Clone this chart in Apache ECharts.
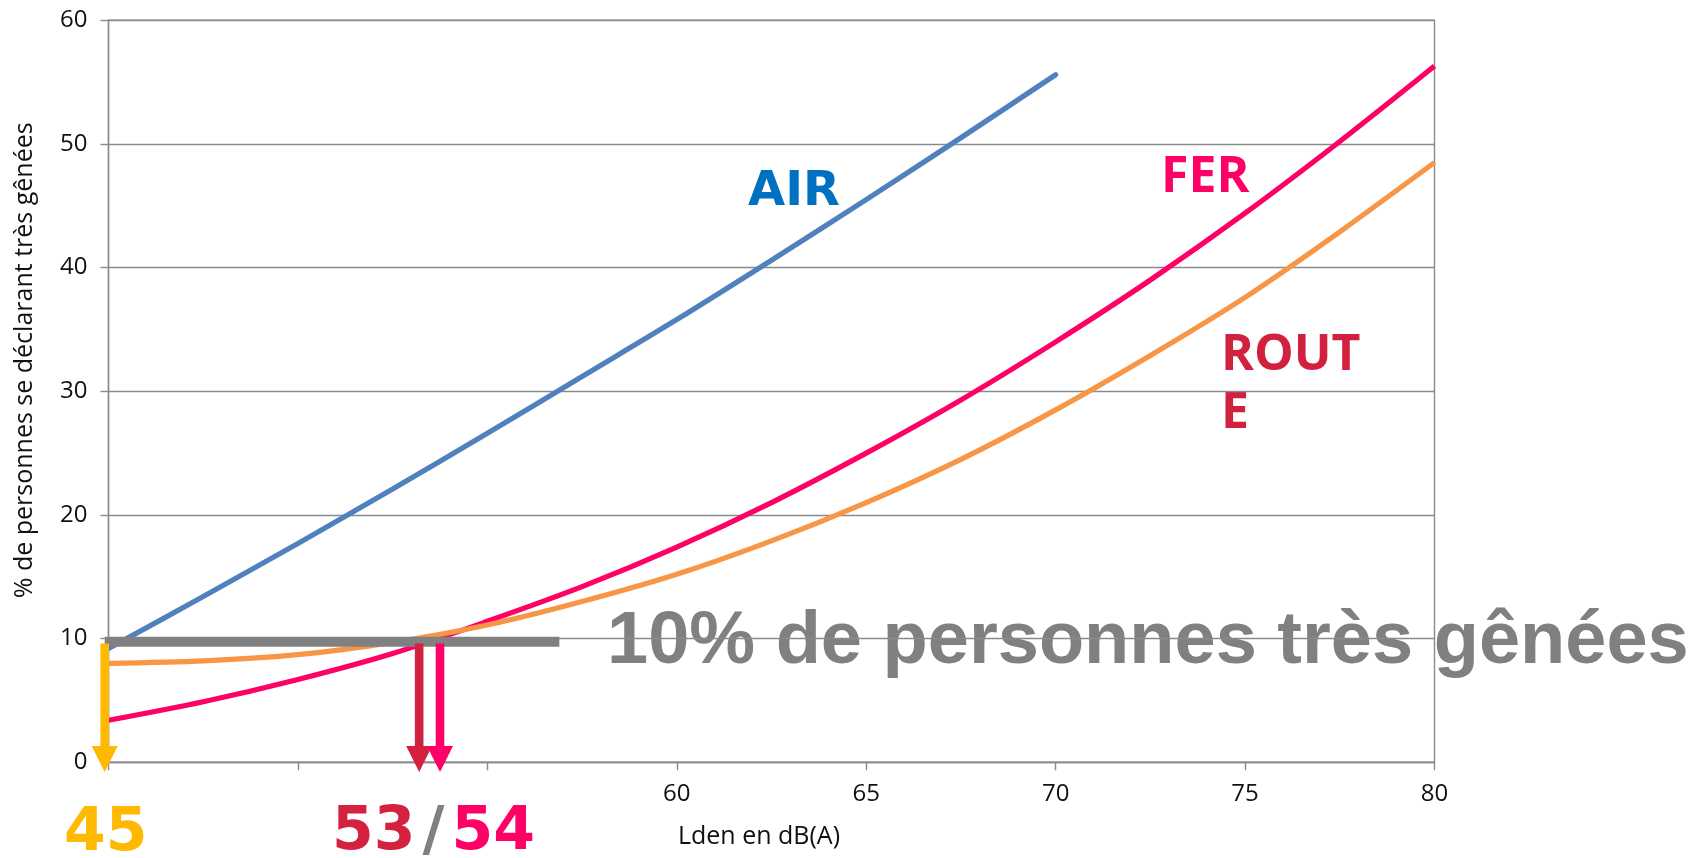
<!DOCTYPE html>
<html>
<head>
<meta charset="utf-8">
<title>Gêne due au bruit des transports</title>
<script src="https://cdn.jsdelivr.net/npm/echarts@6/dist/echarts.min.js"></script>
<style>
  html, body { margin: 0; padding: 0; background: #fff; }
  #chart { width: 1701px; height: 858px; }
</style>
</head>
<body>
<div id="chart"></div>
<script>
// Lden (dB(A)) where the curves are read
const lden = [45, 47.5, 50, 52.5, 55, 57.5, 60, 62.5, 65, 67.5, 70, 72.5, 75, 77.5, 80];
// % de personnes très gênées
const airValues = [9.2, 13.4, 17.7, 22.1, 26.6, 31.2, 35.8, 40.6, 45.5, 50.5, 55.6];
const ferValues = [3.4, 4.9, 6.7, 8.8, 11.4, 14.2, 17.4, 21.0, 25.0, 29.3, 34.0, 39.0, 44.4, 50.2, 56.3];
const routeValues = [8.0, 8.2, 8.7, 9.7, 11.1, 13.0, 15.2, 17.9, 21.0, 24.5, 28.5, 32.9, 37.6, 42.9, 48.5];

// seuil de 10 % (barre grise) et flèches vers l'axe des x
const seuilX = [44.9, 56.9];
const seuilY = 9.75;
const arrowX = [44.9, 53.2, 53.75];
const arrowTop = 9.6;
const arrowTip = -0.78;
const arrowColors = ['#FFB900', '#D42140', '#FF0066'];

const xTickLabels = [60, 65, 70, 75, 80];

const font = "'Open Sans', sans-serif";
const gridColor = '#8A8A8A';

const chart = echarts.init(document.getElementById('chart'));

const option = {
  animation: false,
  backgroundColor: '#fff',
  grid: {
    left: 108.5,
    right: 266.5,
    top: 20.3,
    bottom: 95.7,
    show: true,
    borderColor: gridColor,
    borderWidth: 1.4
  },
  xAxis: {
    type: 'value',
    min: 45,
    max: 80,
    interval: 5,
    name: 'Lden en dB(A)',
    nameLocation: 'middle',
    nameGap: 62,
    nameTextStyle: { fontFamily: font, fontSize: 25, color: '#111', padding: [0, 25, 0, 0], lineHeight: 25 },
    axisLine: { show: true, lineStyle: { color: gridColor, width: 1.4 } },
    axisTick: { show: true, length: 8, lineStyle: { color: gridColor, width: 1.4 } },
    splitLine: { show: false },
    axisLabel: {
      margin: 20,
      fontFamily: font,
      fontSize: 24,
      color: '#111',
      formatter: v => (xTickLabels.includes(v) ? String(v) : '')
    }
  },
  yAxis: {
    type: 'value',
    min: 0,
    max: 60,
    interval: 10,
    name: '% de personnes se déclarant très gênées',
    nameLocation: 'middle',
    nameGap: 71,
    nameTextStyle: { fontFamily: font, fontSize: 25, color: '#111', padding: [0, 0, 0, 62], lineHeight: 25 },
    axisLine: { show: true, lineStyle: { color: gridColor, width: 1.4 } },
    axisTick: { show: true, length: 8, lineStyle: { color: gridColor, width: 1.4 } },
    splitLine: { show: true, lineStyle: { color: gridColor, width: 1.4 } },
    axisLabel: { margin: 21, fontFamily: font, fontSize: 24, color: '#111' }
  },
  graphic: [
    {
      type: 'text', z: -1, x: 607, y: 643,
      style: {
        text: '10% de personnes très gênées',
        font: "bold 74px 'Liberation Sans', Arial, sans-serif",
        fill: '#808080', verticalAlign: 'middle', textVerticalAlign: 'middle'
      }
    },
    {
      type: 'text', x: 748, y: 193,
      style: { text: 'AIR', font: "bold 48px 'DejaVu Sans', sans-serif", fill: '#0070C0', verticalAlign: 'middle', textVerticalAlign: 'middle' }
    },
    {
      type: 'text', x: 1161, y: 178,
      style: { text: 'FER', font: "bold 50px 'Open Sans', sans-serif", fill: '#FF0066', verticalAlign: 'middle', textVerticalAlign: 'middle' }
    },
    {
      type: 'text', x: 1221, y: 385,
      style: { text: 'ROUT\nE', font: "bold 50px 'Open Sans', sans-serif", lineHeight: 58, fill: '#D2203F', verticalAlign: 'middle', textVerticalAlign: 'middle' }
    },
    {
      type: 'text', x: 64, y: 834,
      style: { text: '45', font: "bold 60px 'DejaVu Sans', sans-serif", fill: '#FFB900', verticalAlign: 'middle', textVerticalAlign: 'middle' }
    },
    {
      type: 'text', x: 332, y: 833,
      style: {
        text: '{a|53}{b|/}{c|54}',
        verticalAlign: 'middle', textVerticalAlign: 'middle',
        rich: {
          a: { font: "bold 60px 'DejaVu Sans', sans-serif", fill: '#D42140', color: '#D42140' },
          b: { font: "bold 60px 'DejaVu Sans', sans-serif", fill: '#808080', color: '#808080', padding: [0, 7, 0, 7] },
          c: { font: "bold 60px 'DejaVu Sans', sans-serif", fill: '#FF0066', color: '#FF0066' }
        }
      }
    }
  ],
  series: [
    {
      name: 'AIR', type: 'line', smooth: 0.3, showSymbol: false, z: 2,
      lineStyle: { color: '#4F81BD', width: 5.2, cap: 'round' },
      data: airValues.map((v, i) => [lden[i], v])
    },
    {
      name: 'FER', type: 'line', smooth: 0.3, showSymbol: false, z: 2,
      lineStyle: { color: '#FF0066', width: 5.2 },
      data: ferValues.map((v, i) => [lden[i], v])
    },
    {
      name: 'ROUTE', type: 'line', smooth: 0.3, showSymbol: false, z: 2,
      lineStyle: { color: '#F79646', width: 5.2 },
      data: routeValues.map((v, i) => [lden[i], v])
    },
    {
      name: 'seuil 10 %', type: 'line', showSymbol: false, z: 3,
      lineStyle: { color: '#808080', width: 10 },
      data: seuilX.map(x => [x, seuilY])
    },
    {
      name: 'flèches', type: 'custom', z: 4, clip: false,
      data: arrowX.map((x, i) => [x, arrowTop, arrowTip, i]),
      renderItem: (params, api) => {
        const top = api.coord([api.value(0), api.value(1)]);
        const tip = api.coord([api.value(0), api.value(2)]);
        const cx = top[0];
        const shaft = 4.3, head = 13, headLen = 26;
        return {
          type: 'polygon',
          shape: {
            points: [
              [cx - shaft, top[1]], [cx + shaft, top[1]],
              [cx + shaft, tip[1] - headLen], [cx + head, tip[1] - headLen],
              [cx, tip[1]],
              [cx - head, tip[1] - headLen], [cx - shaft, tip[1] - headLen]
            ]
          },
          style: { fill: arrowColors[api.value(3)] }
        };
      }
    }
  ]
};

chart.setOption(option);
window.addEventListener('resize', () => chart.resize());
</script>
</body>
</html>
